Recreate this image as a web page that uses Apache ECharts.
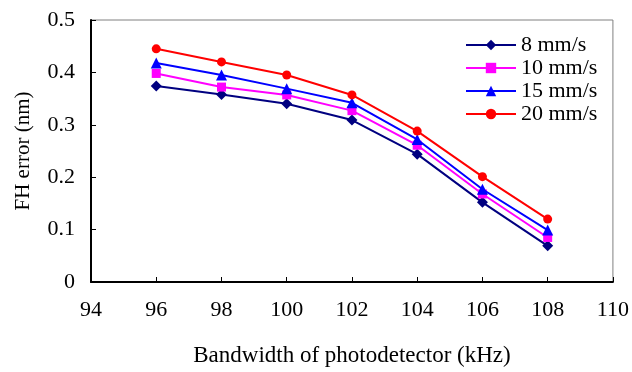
<!DOCTYPE html>
<html>
<head>
<meta charset="utf-8">
<script src="https://cdn.jsdelivr.net/npm/echarts@6/dist/echarts.min.js"></script>
<style>
html,body{margin:0;padding:0;background:#fff;}
#chart{width:632px;height:372px;}
</style>
</head>
<body>
<div id="chart"></div>
<script>
const bandwidth = [96, 98, 100, 102, 104, 106, 108];
const speed8  = [0.374, 0.358, 0.340, 0.309, 0.244, 0.152, 0.069];
const speed10 = [0.398, 0.372, 0.357, 0.327, 0.261, 0.168, 0.085];
const speed15 = [0.418, 0.395, 0.369, 0.342, 0.272, 0.177, 0.099];
const speed20 = [0.445, 0.420, 0.395, 0.357, 0.288, 0.201, 0.120];
const seriesNames = ['8 mm/s', '10 mm/s', '15 mm/s', '20 mm/s'];
const xTitle = 'Bandwidth of photodetector (kHz)';
const yTitle = 'FH error (nm)';

const FONT = '"Liberation Serif", "Times New Roman", serif';
const styles = [
  {color: '#000080', symbol: 'diamond', size: 11},
  {color: '#FF00FF', symbol: 'rect', size: 9},
  {color: '#0000FF', symbol: 'triangle', size: 11},
  {color: '#FF0000', symbol: 'circle', size: 9}
];
const allData = [speed8, speed10, speed15, speed20];

const chart = echarts.init(document.getElementById('chart'), null, {renderer: 'canvas'});
chart.setOption({
  animation: false,
  backgroundColor: '#fff',
  grid: {left: 91, right: 19, top: 20, bottom: 90, show: true, borderColor: '#808080', borderWidth: 1},
  legend: {
    orient: 'vertical', left: 460, top: 29, itemWidth: 50, itemHeight: 13, itemGap: 1,
    textStyle: {fontFamily: FONT, fontSize: 22, color: '#000'},
    data: seriesNames
  },
  xAxis: {
    type: 'value', min: 94, max: 110, interval: 2,
    name: xTitle, nameLocation: 'middle', nameGap: 62,
    nameTextStyle: {fontFamily: FONT, fontSize: 23, color: '#000'},
    axisLine: {lineStyle: {color: '#000', width: 2}},
    axisTick: {inside: true, length: 5, lineStyle: {color: '#000'}},
    axisLabel: {fontFamily: FONT, fontSize: 22, color: '#000', margin: 17},
    splitLine: {show: false}
  },
  yAxis: {
    type: 'value', min: 0, max: 0.5, interval: 0.1,
    name: yTitle, nameLocation: 'middle', nameGap: 57, nameRotate: 90,
    nameTextStyle: {fontFamily: FONT, fontSize: 21, color: '#000'},
    axisLine: {show: true, lineStyle: {color: '#000', width: 2}},
    axisTick: {show: true, inside: true, length: 5, lineStyle: {color: '#000'}},
    axisLabel: {fontFamily: FONT, fontSize: 22, color: '#000', margin: 16},
    splitLine: {show: false}
  },
  series: allData.map((d, i) => ({
    name: seriesNames[i],
    type: 'line',
    data: bandwidth.map((x, j) => [x, d[j]]),
    symbol: styles[i].symbol,
    symbolSize: styles[i].size,
    showAllSymbol: true,
    lineStyle: {color: styles[i].color, width: 2},
    itemStyle: {color: styles[i].color},
    emphasis: {disabled: true},
    z: 2 + i
  }))
});
</script>
</body>
</html>
